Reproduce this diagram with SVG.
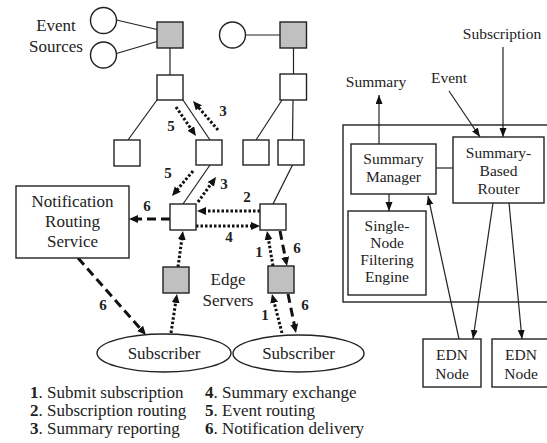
<svg xmlns="http://www.w3.org/2000/svg" width="547" height="443" viewBox="0 0 547 443" font-family="'Liberation Serif', 'DejaVu Serif', 'Times New Roman', serif">
<style>
text{font-family:"Liberation Serif","DejaVu Serif","Times New Roman",serif;fill:#222;}
.t{font-size:17px;text-anchor:middle;}
.r{font-size:15.5px;text-anchor:middle;}
.n{font-size:15px;font-weight:bold;text-anchor:middle;}
.lg{font-size:17px;}
.box{fill:#fff;stroke:#222;stroke-width:1.4;}
.gray{fill:#c0c0c0;stroke:#222;stroke-width:1.4;}
.thin{stroke:#222;stroke-width:1.2;fill:none;}
.dot{stroke:#111;stroke-width:3;stroke-dasharray:2.5 2;fill:none;marker-end:url(#big);}
.dash{stroke:#111;stroke-width:3;stroke-dasharray:9 5;fill:none;marker-end:url(#big);}
.arr{stroke:#222;stroke-width:1.2;fill:none;marker-end:url(#small);}
</style>
<defs>
<marker id="big" markerUnits="userSpaceOnUse" markerWidth="10" markerHeight="9" refX="2" refY="4" orient="auto"><path d="M0,0 L9,4 L0,8 z" fill="#111"/></marker>
<marker id="small" markerUnits="userSpaceOnUse" markerWidth="10" markerHeight="8" refX="9" refY="3.5" orient="auto"><path d="M0,0 L9,3.5 L0,7 z" fill="#111"/></marker>
</defs>
<rect width="547" height="443" fill="#fff"/>

<g id="connectors">
<line class="thin" x1="116.5" y1="20" x2="157" y2="29.5"/>
<line class="thin" x1="116.5" y1="53.5" x2="157" y2="41.5"/>
<line class="thin" x1="170" y1="48" x2="170" y2="75"/>
<line class="thin" x1="157" y1="100" x2="128" y2="140"/>
<line class="thin" x1="183" y1="100" x2="210" y2="140"/>
<line class="thin" x1="210" y1="165" x2="183" y2="204"/>
<line class="thin" x1="245.7" y1="35" x2="280" y2="35"/>
<line class="thin" x1="293.5" y1="48" x2="293.5" y2="74"/>
<line class="thin" x1="282" y1="100" x2="256" y2="140"/>
<line class="thin" x1="293" y1="100" x2="292.5" y2="140"/>
<line class="thin" x1="292.5" y1="165" x2="273" y2="204"/>

<path class="dot" d="M176,107 L192,130.2"/>
<path class="dot" d="M218,130 L197.6,106.3"/>
<path class="dot" d="M193,171 L176.5,190.6"/>
<path class="dot" d="M198,202 L211.9,182.7"/>
<path class="dot" d="M260,211 L204,211"/>
<path class="dot" d="M196,226 L253,226"/>
<path class="dot" d="M178,267 L182,237.9"/>
<path class="dot" d="M273,266 L268.2,237.9"/>
<path class="dot" d="M171,333 L175.9,300.9"/>
<path class="dot" d="M282,333 L273.7,300.8"/>

<path class="dash" d="M170,219 L136,219"/>
<path class="dash" d="M78,258 L141.4,329.8"/>
<path class="dash" d="M280,231 L285.6,259.1"/>
<path class="dash" d="M288,294 L294.6,326.1"/>

<path class="arr" d="M379,144 L379,95"/>
<path class="arr" d="M449,91 L480,137"/>
<path class="arr" d="M503,47 L503,137"/>
<path class="arr" d="M389,194 L389,211"/>
<line class="thin" x1="436" y1="168" x2="453" y2="168"/>
<path class="arr" d="M493,203 L473,339"/>
<path class="arr" d="M509,203 L522,339"/>
<path class="arr" d="M459,339 L428,196"/>
</g>

<g id="labels">
<text class="n" x="171" y="131">5</text>
<text class="n" x="223" y="116">3</text>
<text class="n" x="168" y="178">5</text>
<text class="n" x="224" y="189">3</text>
<text class="n" x="247" y="202">2</text>
<text class="n" x="229" y="242">4</text>
<text class="n" x="147" y="211">6</text>
<text class="n" x="259" y="257">1</text>
<text class="n" x="297" y="253">6</text>
<text class="n" x="103" y="310">6</text>
<text class="n" x="265" y="320">1</text>
<text class="n" x="305" y="310">6</text>
<text class="t" x="56" y="31">Event</text>
<text class="t" x="56" y="52">Sources</text>
<text class="t" x="228" y="285">Edge</text>
<text class="t" x="228" y="306">Servers</text>
<text class="r" x="376" y="87">Summary</text>
<text class="r" x="449" y="83">Event</text>
<text class="r" x="502" y="39">Subscription</text>
</g>

<g id="event-sources">
<circle class="box" cx="103.5" cy="20.5" r="13"/>
<circle class="box" cx="103.5" cy="55" r="13"/>
<circle class="box" cx="232.5" cy="35" r="13"/>
</g>

<g id="broker-tree">
<rect class="gray" x="157" y="22" width="26" height="26"/>
<rect class="gray" x="280" y="22" width="26.5" height="26"/>
<rect class="box" x="157" y="75" width="26" height="25"/>
<rect class="box" x="280" y="74" width="26.5" height="26"/>
<rect class="box" x="114" y="140" width="26" height="26"/>
<rect class="box" x="196" y="140" width="26" height="25"/>
<rect class="box" x="243" y="140" width="26" height="25"/>
<rect class="box" x="278" y="140" width="26" height="25"/>
</g>

<g id="edge-servers">
<rect class="box" x="170" y="204" width="26" height="26"/>
<rect class="box" x="260" y="204" width="26" height="26"/>
<rect class="gray" x="163" y="267" width="26" height="26"/>
<rect class="gray" x="268" y="266" width="26" height="27"/>
</g>

<g id="notification-routing-service">
<rect class="box" x="16" y="186" width="113" height="72"/>
<text class="t" x="72.5" y="207">Notification</text>
<text class="t" x="72.5" y="227">Routing</text>
<text class="t" x="72.5" y="247">Service</text>
</g>

<g id="subscriber-1">
<ellipse class="box" cx="164" cy="353" rx="67" ry="19"/>
<text class="t" x="164" y="359">Subscriber</text>
</g>
<g id="subscriber-2">
<ellipse class="box" cx="298.5" cy="353.5" rx="65.5" ry="18.5"/>
<text class="t" x="298.5" y="359">Subscriber</text>
</g>

<g id="edn-container">
<rect x="343" y="125" width="210" height="177" fill="none" stroke="#222" stroke-width="1.4"/>
</g>

<g id="summary-manager">
<rect class="box" x="351" y="144" width="85" height="50"/>
<text class="r" x="393.5" y="164">Summary</text>
<text class="r" x="393.5" y="182">Manager</text>
</g>

<g id="summary-based-router">
<rect class="box" x="453" y="137" width="91" height="66"/>
<text class="r" x="498.5" y="158">Summary-</text>
<text class="r" x="498.5" y="176">Based</text>
<text class="r" x="498.5" y="194">Router</text>
</g>

<g id="filtering-engine">
<rect class="box" x="348" y="211" width="78" height="84"/>
<text class="r" x="387" y="231">Single-</text>
<text class="r" x="387" y="248">Node</text>
<text class="r" x="387" y="265">Filtering</text>
<text class="r" x="387" y="282">Engine</text>
</g>

<g id="edn-node-1">
<rect class="box" x="423" y="339" width="58" height="48"/>
<text class="r" x="452" y="360">EDN</text>
<text class="r" x="452" y="379">Node</text>
</g>
<g id="edn-node-2">
<rect class="box" x="492" y="339" width="60" height="48"/>
<text class="r" x="521" y="360">EDN</text>
<text class="r" x="521" y="379">Node</text>
</g>

<g id="legend">
<text class="lg" x="30" y="398"><tspan font-weight="bold">1</tspan>. Submit subscription</text>
<text class="lg" x="30" y="416"><tspan font-weight="bold">2</tspan>. Subscription routing</text>
<text class="lg" x="30" y="434"><tspan font-weight="bold">3</tspan>. Summary reporting</text>
<text class="lg" x="205" y="398"><tspan font-weight="bold">4</tspan>. Summary exchange</text>
<text class="lg" x="205" y="416"><tspan font-weight="bold">5</tspan>. Event routing</text>
<text class="lg" x="205" y="434"><tspan font-weight="bold">6</tspan>. Notification delivery</text>
</g>
</svg>
